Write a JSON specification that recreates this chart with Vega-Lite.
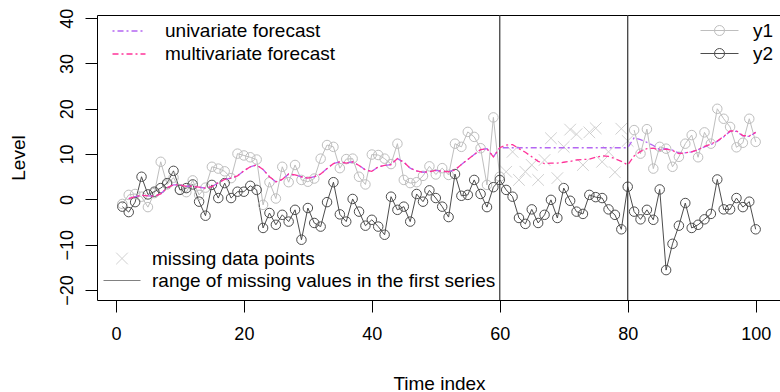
{
  "$schema": "https://vega.github.io/schema/vega-lite/v6.json",
  "width": 684,
  "height": 285,
  "autosize": {"type": "none"},
  "padding": {"left": 97, "top": 15, "right": 0, "bottom": 92},
  "background": "white",
  "config": {
    "view": {"stroke": "#000000", "strokeWidth": 1},
    "font": "Liberation Sans",
    "axis": {"grid": false, "domain": false, "tickColor": "#000000", "tickSize": 12, "tickWidth": 1,
      "labelFont": "Liberation Sans", "labelFontSize": 18, "labelColor": "#000000",
      "titleFont": "Liberation Sans", "titleFontSize": 19, "titleFontWeight": "normal", "titleColor": "#000000"},
    "legend": {"labelFont": "Liberation Sans", "labelFontSize": 19, "labelColor": "#000000", "padding": 0, "labelLimit": 700, "rowPadding": 2}
  },
  "datasets": {
    "series": [
      {"t":1,"v":-1.0,"s":"y1","g":"y1a"},{"t":2,"v":1.0,"s":"y1","g":"y1a"},{"t":3,"v":1.2,"s":"y1","g":"y1a"},{"t":4,"v":0.6,"s":"y1","g":"y1a"},{"t":5,"v":-1.7,"s":"y1","g":"y1a"},
      {"t":6,"v":1.4,"s":"y1","g":"y1a"},{"t":7,"v":8.3,"s":"y1","g":"y1a"},{"t":8,"v":3.3,"s":"y1","g":"y1a"},{"t":9,"v":4.8,"s":"y1","g":"y1a"},{"t":10,"v":2.2,"s":"y1","g":"y1a"},
      {"t":11,"v":1.6,"s":"y1","g":"y1a"},{"t":12,"v":4.2,"s":"y1","g":"y1a"},{"t":13,"v":1.0,"s":"y1","g":"y1a"},{"t":14,"v":2.6,"s":"y1","g":"y1a"},{"t":15,"v":7.2,"s":"y1","g":"y1a"},
      {"t":16,"v":6.8,"s":"y1","g":"y1a"},{"t":17,"v":6.2,"s":"y1","g":"y1a"},{"t":18,"v":4.7,"s":"y1","g":"y1a"},{"t":19,"v":10.1,"s":"y1","g":"y1a"},{"t":20,"v":9.7,"s":"y1","g":"y1a"},
      {"t":21,"v":9.3,"s":"y1","g":"y1a"},{"t":22,"v":8.8,"s":"y1","g":"y1a"},{"t":23,"v":-1.2,"s":"y1","g":"y1a"},{"t":24,"v":3.8,"s":"y1","g":"y1a"},{"t":25,"v":0.2,"s":"y1","g":"y1a"},
      {"t":26,"v":7.2,"s":"y1","g":"y1a"},{"t":27,"v":3.8,"s":"y1","g":"y1a"},{"t":28,"v":7.6,"s":"y1","g":"y1a"},{"t":29,"v":4.3,"s":"y1","g":"y1a"},{"t":30,"v":3.9,"s":"y1","g":"y1a"},
      {"t":31,"v":4.6,"s":"y1","g":"y1a"},{"t":32,"v":9.0,"s":"y1","g":"y1a"},{"t":33,"v":12.0,"s":"y1","g":"y1a"},{"t":34,"v":11.6,"s":"y1","g":"y1a"},{"t":35,"v":6.9,"s":"y1","g":"y1a"},
      {"t":36,"v":8.9,"s":"y1","g":"y1a"},{"t":37,"v":9.0,"s":"y1","g":"y1a"},{"t":38,"v":5.0,"s":"y1","g":"y1a"},{"t":39,"v":3.3,"s":"y1","g":"y1a"},{"t":40,"v":9.9,"s":"y1","g":"y1a"},
      {"t":41,"v":9.8,"s":"y1","g":"y1a"},{"t":42,"v":9.0,"s":"y1","g":"y1a"},{"t":43,"v":7.8,"s":"y1","g":"y1a"},{"t":44,"v":12.3,"s":"y1","g":"y1a"},{"t":45,"v":4.3,"s":"y1","g":"y1a"},
      {"t":46,"v":3.6,"s":"y1","g":"y1a"},{"t":47,"v":3.8,"s":"y1","g":"y1a"},{"t":48,"v":5.2,"s":"y1","g":"y1a"},{"t":49,"v":7.3,"s":"y1","g":"y1a"},{"t":50,"v":5.5,"s":"y1","g":"y1a"},
      {"t":51,"v":6.9,"s":"y1","g":"y1a"},{"t":52,"v":5.4,"s":"y1","g":"y1a"},{"t":53,"v":12.3,"s":"y1","g":"y1a"},{"t":54,"v":11.6,"s":"y1","g":"y1a"},{"t":55,"v":14.9,"s":"y1","g":"y1a"},
      {"t":56,"v":13.8,"s":"y1","g":"y1a"},{"t":57,"v":11.3,"s":"y1","g":"y1a"},{"t":58,"v":3.2,"s":"y1","g":"y1a"},{"t":59,"v":18.1,"s":"y1","g":"y1a"},{"t":60,"v":5.0,"s":"y1","g":"y1a"},
      {"t":81,"v":15.3,"s":"y1","g":"y1b"},{"t":82,"v":10.1,"s":"y1","g":"y1b"},{"t":83,"v":15.5,"s":"y1","g":"y1b"},{"t":84,"v":6.8,"s":"y1","g":"y1b"},{"t":85,"v":11.6,"s":"y1","g":"y1b"},
      {"t":86,"v":11.2,"s":"y1","g":"y1b"},{"t":87,"v":7.2,"s":"y1","g":"y1b"},{"t":88,"v":9.4,"s":"y1","g":"y1b"},{"t":89,"v":12.3,"s":"y1","g":"y1b"},{"t":90,"v":14.2,"s":"y1","g":"y1b"},
      {"t":91,"v":9.3,"s":"y1","g":"y1b"},{"t":92,"v":14.8,"s":"y1","g":"y1b"},{"t":93,"v":12.3,"s":"y1","g":"y1b"},{"t":94,"v":20.0,"s":"y1","g":"y1b"},{"t":95,"v":17.8,"s":"y1","g":"y1b"},
      {"t":96,"v":16.0,"s":"y1","g":"y1b"},{"t":97,"v":11.5,"s":"y1","g":"y1b"},{"t":98,"v":12.5,"s":"y1","g":"y1b"},{"t":99,"v":17.8,"s":"y1","g":"y1b"},{"t":100,"v":12.7,"s":"y1","g":"y1b"},
      {"t":1,"v":-1.6,"s":"y2","g":"y2"},{"t":2,"v":-2.8,"s":"y2","g":"y2"},{"t":3,"v":-0.6,"s":"y2","g":"y2"},{"t":4,"v":5.0,"s":"y2","g":"y2"},{"t":5,"v":1.1,"s":"y2","g":"y2"},
      {"t":6,"v":1.7,"s":"y2","g":"y2"},{"t":7,"v":2.5,"s":"y2","g":"y2"},{"t":8,"v":3.6,"s":"y2","g":"y2"},{"t":9,"v":6.3,"s":"y2","g":"y2"},{"t":10,"v":2.1,"s":"y2","g":"y2"},
      {"t":11,"v":2.5,"s":"y2","g":"y2"},{"t":12,"v":3.3,"s":"y2","g":"y2"},{"t":13,"v":-0.5,"s":"y2","g":"y2"},{"t":14,"v":-3.6,"s":"y2","g":"y2"},{"t":15,"v":3.2,"s":"y2","g":"y2"},
      {"t":16,"v":0.3,"s":"y2","g":"y2"},{"t":17,"v":3.6,"s":"y2","g":"y2"},{"t":18,"v":0.3,"s":"y2","g":"y2"},{"t":19,"v":1.7,"s":"y2","g":"y2"},{"t":20,"v":1.7,"s":"y2","g":"y2"},
      {"t":21,"v":3.0,"s":"y2","g":"y2"},{"t":22,"v":2.1,"s":"y2","g":"y2"},{"t":23,"v":-6.3,"s":"y2","g":"y2"},{"t":24,"v":-3.0,"s":"y2","g":"y2"},{"t":25,"v":-5.6,"s":"y2","g":"y2"},
      {"t":26,"v":-3.4,"s":"y2","g":"y2"},{"t":27,"v":-4.9,"s":"y2","g":"y2"},{"t":28,"v":-2.3,"s":"y2","g":"y2"},{"t":29,"v":-8.9,"s":"y2","g":"y2"},{"t":30,"v":-1.9,"s":"y2","g":"y2"},
      {"t":31,"v":-5.2,"s":"y2","g":"y2"},{"t":32,"v":-6.0,"s":"y2","g":"y2"},{"t":33,"v":-0.6,"s":"y2","g":"y2"},{"t":34,"v":3.8,"s":"y2","g":"y2"},{"t":35,"v":-3.3,"s":"y2","g":"y2"},
      {"t":36,"v":-4.9,"s":"y2","g":"y2"},{"t":37,"v":0.1,"s":"y2","g":"y2"},{"t":38,"v":-2.7,"s":"y2","g":"y2"},{"t":39,"v":-5.8,"s":"y2","g":"y2"},{"t":40,"v":-4.5,"s":"y2","g":"y2"},
      {"t":41,"v":-6.0,"s":"y2","g":"y2"},{"t":42,"v":-7.8,"s":"y2","g":"y2"},{"t":43,"v":0.6,"s":"y2","g":"y2"},{"t":44,"v":-2.3,"s":"y2","g":"y2"},{"t":45,"v":-1.6,"s":"y2","g":"y2"},
      {"t":46,"v":-4.9,"s":"y2","g":"y2"},{"t":47,"v":1.2,"s":"y2","g":"y2"},{"t":48,"v":-0.5,"s":"y2","g":"y2"},{"t":49,"v":2.0,"s":"y2","g":"y2"},{"t":50,"v":0.3,"s":"y2","g":"y2"},
      {"t":51,"v":-1.6,"s":"y2","g":"y2"},{"t":52,"v":-3.9,"s":"y2","g":"y2"},{"t":53,"v":5.6,"s":"y2","g":"y2"},{"t":54,"v":0.8,"s":"y2","g":"y2"},{"t":55,"v":1.0,"s":"y2","g":"y2"},
      {"t":56,"v":4.3,"s":"y2","g":"y2"},{"t":57,"v":1.2,"s":"y2","g":"y2"},{"t":58,"v":-1.7,"s":"y2","g":"y2"},{"t":59,"v":2.7,"s":"y2","g":"y2"},{"t":60,"v":4.3,"s":"y2","g":"y2"},
      {"t":61,"v":2.1,"s":"y2","g":"y2"},{"t":62,"v":0.6,"s":"y2","g":"y2"},{"t":63,"v":-4.1,"s":"y2","g":"y2"},{"t":64,"v":-5.4,"s":"y2","g":"y2"},{"t":65,"v":-2.2,"s":"y2","g":"y2"},
      {"t":66,"v":-5.2,"s":"y2","g":"y2"},{"t":67,"v":-3.4,"s":"y2","g":"y2"},{"t":68,"v":-0.1,"s":"y2","g":"y2"},{"t":69,"v":-4.1,"s":"y2","g":"y2"},{"t":70,"v":2.5,"s":"y2","g":"y2"},
      {"t":71,"v":-0.3,"s":"y2","g":"y2"},{"t":72,"v":-2.7,"s":"y2","g":"y2"},{"t":73,"v":-3.2,"s":"y2","g":"y2"},{"t":74,"v":1.0,"s":"y2","g":"y2"},{"t":75,"v":0.5,"s":"y2","g":"y2"},
      {"t":76,"v":0.3,"s":"y2","g":"y2"},{"t":77,"v":-2.2,"s":"y2","g":"y2"},{"t":78,"v":-3.4,"s":"y2","g":"y2"},{"t":79,"v":-6.6,"s":"y2","g":"y2"},{"t":80,"v":2.8,"s":"y2","g":"y2"},
      {"t":81,"v":-2.7,"s":"y2","g":"y2"},{"t":82,"v":-4.4,"s":"y2","g":"y2"},{"t":83,"v":-2.3,"s":"y2","g":"y2"},{"t":84,"v":-4.5,"s":"y2","g":"y2"},{"t":85,"v":2.2,"s":"y2","g":"y2"},
      {"t":86,"v":-15.6,"s":"y2","g":"y2"},{"t":87,"v":-9.8,"s":"y2","g":"y2"},{"t":88,"v":-5.8,"s":"y2","g":"y2"},{"t":89,"v":-0.8,"s":"y2","g":"y2"},{"t":90,"v":-6.3,"s":"y2","g":"y2"},
      {"t":91,"v":-5.6,"s":"y2","g":"y2"},{"t":92,"v":-4.4,"s":"y2","g":"y2"},{"t":93,"v":-3.2,"s":"y2","g":"y2"},{"t":94,"v":4.4,"s":"y2","g":"y2"},{"t":95,"v":-2.2,"s":"y2","g":"y2"},
      {"t":96,"v":-2.2,"s":"y2","g":"y2"},{"t":97,"v":0.3,"s":"y2","g":"y2"},{"t":98,"v":-1.7,"s":"y2","g":"y2"},{"t":99,"v":-0.5,"s":"y2","g":"y2"},{"t":100,"v":-6.6,"s":"y2","g":"y2"}
    ],
    "missing": [
      {"t":61,"v":6.1,"k":"missing data points"},{"t":62,"v":10.5,"k":"missing data points"},{"t":63,"v":4.3,"k":"missing data points"},{"t":64,"v":6.1,"k":"missing data points"},
      {"t":65,"v":7.6,"k":"missing data points"},{"t":66,"v":4.3,"k":"missing data points"},{"t":67,"v":8.7,"k":"missing data points"},{"t":68,"v":13.5,"k":"missing data points"},
      {"t":69,"v":4.7,"k":"missing data points"},{"t":70,"v":11.6,"k":"missing data points"},{"t":71,"v":15.4,"k":"missing data points"},{"t":72,"v":14.4,"k":"missing data points"},
      {"t":73,"v":7.6,"k":"missing data points"},{"t":74,"v":14.8,"k":"missing data points"},{"t":75,"v":15.7,"k":"missing data points"},{"t":76,"v":8.3,"k":"missing data points"},
      {"t":77,"v":10.5,"k":"missing data points"},{"t":78,"v":6.0,"k":"missing data points"},{"t":79,"v":15.6,"k":"missing data points"},{"t":80,"v":12.9,"k":"missing data points"}
    ],
    "range": [{"t":60},{"t":80}],
    "fc": [
      {"t":2,"univariate forecast":0.2,"multivariate forecast":0.2},{"t":3,"univariate forecast":0.6,"multivariate forecast":0.6},
      {"t":4,"univariate forecast":0.9,"multivariate forecast":0.9},{"t":5,"univariate forecast":0.8,"multivariate forecast":0.8},
      {"t":6,"univariate forecast":0.7,"multivariate forecast":0.7},{"t":7,"univariate forecast":1.2,"multivariate forecast":1.2},
      {"t":8,"univariate forecast":2.6,"multivariate forecast":2.6},{"t":9,"univariate forecast":3.2,"multivariate forecast":3.2},
      {"t":10,"univariate forecast":3.2,"multivariate forecast":3.2},{"t":11,"univariate forecast":2.9,"multivariate forecast":2.9},
      {"t":12,"univariate forecast":2.9,"multivariate forecast":2.9},{"t":13,"univariate forecast":2.7,"multivariate forecast":2.7},
      {"t":14,"univariate forecast":2.5,"multivariate forecast":2.5},{"t":15,"univariate forecast":2.8,"multivariate forecast":2.8},
      {"t":16,"univariate forecast":3.7,"multivariate forecast":3.7},{"t":17,"univariate forecast":4.4,"multivariate forecast":4.4},
      {"t":18,"univariate forecast":4.7,"multivariate forecast":4.7},{"t":19,"univariate forecast":5.2,"multivariate forecast":5.2},
      {"t":20,"univariate forecast":6.3,"multivariate forecast":6.3},{"t":21,"univariate forecast":7.2,"multivariate forecast":7.2},
      {"t":22,"univariate forecast":7.6,"multivariate forecast":7.6},{"t":23,"univariate forecast":6.6,"multivariate forecast":6.6},
      {"t":24,"univariate forecast":5.0,"multivariate forecast":5.0},{"t":25,"univariate forecast":3.9,"multivariate forecast":3.9},
      {"t":26,"univariate forecast":4.4,"multivariate forecast":4.4},{"t":27,"univariate forecast":5.6,"multivariate forecast":5.6},
      {"t":28,"univariate forecast":5.4,"multivariate forecast":5.4},{"t":29,"univariate forecast":5.0,"multivariate forecast":5.0},
      {"t":30,"univariate forecast":4.7,"multivariate forecast":4.7},{"t":31,"univariate forecast":5.0,"multivariate forecast":5.0},
      {"t":32,"univariate forecast":5.6,"multivariate forecast":5.6},{"t":33,"univariate forecast":6.8,"multivariate forecast":6.8},
      {"t":34,"univariate forecast":7.9,"multivariate forecast":7.9},{"t":35,"univariate forecast":8.3,"multivariate forecast":8.3},
      {"t":36,"univariate forecast":8.0,"multivariate forecast":8.0},{"t":37,"univariate forecast":8.3,"multivariate forecast":8.3},
      {"t":38,"univariate forecast":7.5,"multivariate forecast":7.5},{"t":39,"univariate forecast":6.5,"multivariate forecast":6.5},
      {"t":40,"univariate forecast":6.2,"multivariate forecast":6.2},{"t":41,"univariate forecast":7.2,"multivariate forecast":7.2},
      {"t":42,"univariate forecast":7.5,"multivariate forecast":7.5},{"t":43,"univariate forecast":7.7,"multivariate forecast":7.7},
      {"t":44,"univariate forecast":9.0,"multivariate forecast":9.0},{"t":45,"univariate forecast":8.2,"multivariate forecast":8.2},
      {"t":46,"univariate forecast":6.9,"multivariate forecast":6.9},{"t":47,"univariate forecast":6.3,"multivariate forecast":6.3},
      {"t":48,"univariate forecast":6.0,"multivariate forecast":6.0},{"t":49,"univariate forecast":6.1,"multivariate forecast":6.1},
      {"t":50,"univariate forecast":6.4,"multivariate forecast":6.4},{"t":51,"univariate forecast":6.2,"multivariate forecast":6.2},
      {"t":52,"univariate forecast":6.1,"multivariate forecast":6.1},{"t":53,"univariate forecast":6.5,"multivariate forecast":6.5},
      {"t":54,"univariate forecast":7.7,"multivariate forecast":7.7},{"t":55,"univariate forecast":8.8,"multivariate forecast":8.8},
      {"t":56,"univariate forecast":9.9,"multivariate forecast":9.9},{"t":57,"univariate forecast":11.0,"multivariate forecast":11.0},
      {"t":58,"univariate forecast":11.2,"multivariate forecast":11.2},{"t":59,"univariate forecast":9.4,"multivariate forecast":9.4},
      {"t":60,"univariate forecast":11.4,"multivariate forecast":11.4},{"t":61,"univariate forecast":11.4,"multivariate forecast":12.0},
      {"t":62,"univariate forecast":11.4,"multivariate forecast":12.1},{"t":63,"univariate forecast":11.4,"multivariate forecast":11.2},
      {"t":64,"univariate forecast":11.4,"multivariate forecast":10.4},{"t":65,"univariate forecast":11.4,"multivariate forecast":9.4},
      {"t":66,"univariate forecast":11.4,"multivariate forecast":8.4},{"t":67,"univariate forecast":11.4,"multivariate forecast":7.9},
      {"t":68,"univariate forecast":11.4,"multivariate forecast":8.0},{"t":69,"univariate forecast":11.4,"multivariate forecast":8.0},
      {"t":70,"univariate forecast":11.4,"multivariate forecast":8.2},{"t":71,"univariate forecast":11.4,"multivariate forecast":8.4},
      {"t":72,"univariate forecast":11.4,"multivariate forecast":8.7},{"t":73,"univariate forecast":11.4,"multivariate forecast":8.8},
      {"t":74,"univariate forecast":11.4,"multivariate forecast":8.9},{"t":75,"univariate forecast":11.4,"multivariate forecast":9.3},
      {"t":76,"univariate forecast":11.4,"multivariate forecast":9.6},{"t":77,"univariate forecast":11.4,"multivariate forecast":9.5},
      {"t":78,"univariate forecast":11.4,"multivariate forecast":9.0},{"t":79,"univariate forecast":11.4,"multivariate forecast":8.4},
      {"t":80,"univariate forecast":11.4,"multivariate forecast":7.6},{"t":81,"univariate forecast":13.6,"multivariate forecast":9.6},
      {"t":82,"univariate forecast":13.2,"multivariate forecast":10.6},{"t":83,"univariate forecast":12.6,"multivariate forecast":11.2},
      {"t":84,"univariate forecast":11.9,"multivariate forecast":11.3},{"t":85,"univariate forecast":11.0,"multivariate forecast":10.9},
      {"t":86,"univariate forecast":11.2,"multivariate forecast":11.1},{"t":87,"univariate forecast":10.9,"multivariate forecast":10.8},
      {"t":88,"univariate forecast":10.2,"multivariate forecast":10.1},{"t":89,"univariate forecast":10.3,"multivariate forecast":10.3},
      {"t":90,"univariate forecast":10.5,"multivariate forecast":10.5},{"t":91,"univariate forecast":11.0,"multivariate forecast":11.0},
      {"t":92,"univariate forecast":11.6,"multivariate forecast":11.7},{"t":93,"univariate forecast":12.1,"multivariate forecast":12.2},
      {"t":94,"univariate forecast":12.8,"multivariate forecast":12.9},{"t":95,"univariate forecast":13.8,"multivariate forecast":13.9},
      {"t":96,"univariate forecast":15.0,"multivariate forecast":15.1},{"t":97,"univariate forecast":15.0,"multivariate forecast":15.1},
      {"t":98,"univariate forecast":14.0,"multivariate forecast":14.1},{"t":99,"univariate forecast":13.9,"multivariate forecast":14.0},
      {"t":100,"univariate forecast":14.8,"multivariate forecast":14.8}
    ]
  },
  "encoding": {
    "x": {"field": "t", "type": "quantitative",
      "scale": {"domain": [-2.96, 103.96], "nice": false, "zero": false},
      "axis": {"values": [0, 20, 40, 60, 80, 100], "title": "Time index", "labelPadding": 13, "labelFlush": false,
        "titleX": 342, "titleY": 83, "titleBaseline": "middle", "titleAlign": "center"}}
  },
  "layer": [
    {
      "data": {"name": "series"},
      "mark": {"type": "line", "strokeWidth": 1, "point": {"filled": false, "size": 90, "strokeWidth": 1}},
      "encoding": {
        "y": {"field": "v", "type": "quantitative",
          "scale": {"domain": [-22.2, 40.7], "nice": false, "zero": false},
          "axis": {"values": [-20, -10, 0, 10, 20, 30, 40], "title": "Level", "labelAngle": -90, "labelAlign": "center",
            "labelBaseline": "alphabetic", "labelPadding": 13, "titleX": -79, "titleY": 142.5, "titleAngle": -90,
            "titleBaseline": "middle", "titleAlign": "center"}},
        "detail": {"field": "g"},
        "color": {"field": "s", "type": "nominal", "scale": {"domain": ["y1", "y2"], "range": ["#BEBEBE", "#4D4D4D"]},
          "legend": {"title": null, "orient": "none", "legendX": 612, "legendY": 5, "rowPadding": 2,
            "symbolType": "M-1.9,0L1.9,0M0.5,0A0.5,0.5 0 1,1 -0.5,0A0.5,0.5 0 1,1 0.5,0",
            "symbolSize": 400, "symbolStrokeWidth": 1, "symbolFillColor": "transparent", "labelOffset": 23}}
      }
    },
    {
      "data": {"name": "missing"},
      "mark": {"type": "point", "filled": false, "strokeWidth": 1, "size": 400},
      "encoding": {
        "y": {"field": "v", "type": "quantitative"},
        "shape": {"field": "k", "type": "nominal",
          "scale": {"domain": ["missing data points", "range of missing values in the first series"],
            "range": ["M-0.58,-0.58L0.58,0.58M-0.58,0.58L0.58,-0.58", "M-1.85,0L1.85,0"]},
          "legend": {"title": null, "orient": "none", "legendX": 14.5, "legendY": 233, "rowPadding": 1, "symbolSize": 400, "symbolStrokeWidth": 1, "labelOffset": 19.5}},
        "color": {"field": "k", "type": "nominal",
          "scale": {"domain": ["missing data points", "range of missing values in the first series"], "range": ["#BEBEBE", "#4D4D4D"]},
          "legend": {"title": null, "orient": "none", "legendX": 14.5, "legendY": 233, "rowPadding": 1, "symbolSize": 400, "symbolStrokeWidth": 1, "labelOffset": 19.5}}
      }
    },
    {
      "data": {"name": "range"},
      "mark": {"type": "rule", "color": "#333333", "strokeWidth": 1.2},
      "encoding": {}
    },
    {
      "data": {"name": "fc"},
      "transform": [{"fold": ["univariate forecast", "multivariate forecast"], "as": ["m", "v"]}],
      "mark": {"type": "line", "strokeWidth": 1.3},
      "encoding": {
        "y": {"field": "v", "type": "quantitative"},
        "color": {"field": "m", "type": "nominal",
          "scale": {"domain": ["univariate forecast", "multivariate forecast"], "range": ["#B466F2", "#FF3399"]},
          "legend": {"title": null, "orient": "none", "legendX": 21, "legendY": 5, "rowPadding": 2, "symbolType": "M-1.65,0L1.65,0", "symbolSize": 400, "symbolStrokeWidth": 1.3, "labelOffset": 25}},
        "strokeDash": {"field": "m", "type": "nominal",
          "scale": {"domain": ["univariate forecast", "multivariate forecast"], "range": [[2, 3, 6, 3], [6, 3, 2, 3]]},
          "legend": {"title": null, "orient": "none", "legendX": 21, "legendY": 5, "rowPadding": 2, "symbolType": "M-1.65,0L1.65,0", "symbolSize": 400, "symbolStrokeWidth": 1.3, "labelOffset": 25}}
      }
    }
  ],
  "resolve": {"scale": {"color": "independent", "shape": "independent", "strokeDash": "independent"}}
}
